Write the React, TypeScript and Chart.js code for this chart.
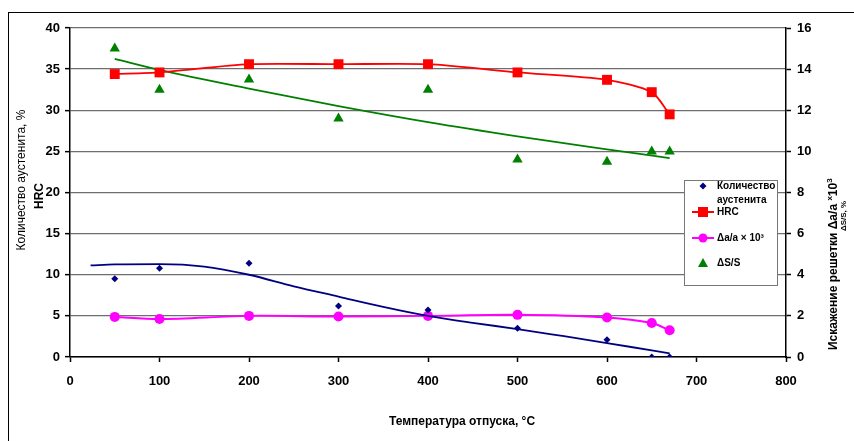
import React, { useEffect, useRef } from 'react';
import { Chart, registerables } from 'chart.js';

Chart.register(...registerables);

// ---- Data ----
const temps = [50, 100, 200, 300, 400, 500, 600, 650, 670];
const austenite = [9.5, 10.8, 11.4, 6.2, 5.7, 3.5, 2.1, 0, 0];
const hrc = [34.4, 34.6, 35.6, 35.6, 35.6, 34.6, 33.7, 32.2, 29.5];
const latticeDist = [1.95, 1.85, 2.0, 1.97, 2.0, 2.05, 1.92, 1.65, 1.3];
const dss = [15.0, 13.0, 13.5, 11.6, 13.0, 9.6, 9.5, 10.0, 10.0];

const austTrendX = [23, 50, 100, 150, 200, 250, 300, 350, 400, 450, 500, 550, 600, 650, 670];
const austTrendY = [11.13, 11.25, 11.3, 11.0, 10.0, 8.6, 7.35, 6.1, 5.0, 4.15, 3.4, 2.56, 1.7, 0.8, 0.45];

const dssTrendX = [50, 100, 200, 300, 400, 500, 600, 670];
const dssTrendY = [14.5, 13.96, 13.05, 12.2, 11.42, 10.73, 10.1, 9.67];

const xTicks = [0, 100, 200, 300, 400, 500, 600, 700, 800];
const yLeftTicks = [0, 5, 10, 15, 20, 25, 30, 35, 40];
const yRightTicks = [0, 2, 4, 6, 8, 10, 12, 14, 16];

const labels = {
  x: 'Температура отпуска, °С',
  yLeft1: 'Количество аустенита, %',
  yLeft2: 'HRC',
  yRightMain: 'Искажение решетки Δa/a ',
  yRightSub: 'ΔS/S, %',
  legAust1: 'Количество',
  legAust2: 'аустенита',
  legHrc: 'HRC',
  legLat: 'Δa/a × 10³',
  legDss: 'ΔS/S',
};

const FONT = '"Liberation Sans", Arial, Helvetica, sans-serif';
const NAVY = '#000080';
const RED = '#FF0000';
const MAGENTA = '#FF00FF';
const GREEN = '#008000';

const pts = (xs: number[], ys: number[]) => xs.map((x, i) => ({ x, y: ys[i] }));

function diamond(ctx: CanvasRenderingContext2D, x: number, y: number, r: number, color: string) {
  ctx.beginPath();
  ctx.moveTo(x, y - r);
  ctx.lineTo(x + r, y);
  ctx.lineTo(x, y + r);
  ctx.lineTo(x - r, y);
  ctx.closePath();
  ctx.fillStyle = color;
  ctx.fill();
}

const overlay = {
  id: 'overlay',
  beforeDraw(chart: any) {
    const ctx = chart.ctx as CanvasRenderingContext2D;
    ctx.save();
    ctx.fillStyle = '#ffffff';
    ctx.fillRect(0, 0, chart.width, chart.height);
    ctx.strokeStyle = '#000';
    ctx.lineWidth = 1;
    ctx.strokeRect(8.5, 12.5, 1000, 1000);
    ctx.restore();
  },
  afterDraw(chart: any) {
    const ctx = chart.ctx as CanvasRenderingContext2D;
    ctx.save();
    ctx.fillStyle = '#000';
    // X title
    ctx.font = `bold 12px ${FONT}`;
    ctx.textAlign = 'center';
    ctx.textBaseline = 'middle';
    ctx.fillText(labels.x, 462, 422);

    // Left title
    ctx.save();
    ctx.translate(22, 180);
    ctx.rotate(-Math.PI / 2);
    ctx.font = `12px ${FONT}`;
    ctx.fillText(labels.yLeft1, 0, 0);
    ctx.restore();
    ctx.save();
    ctx.translate(40, 196);
    ctx.rotate(-Math.PI / 2);
    ctx.font = `bold 12px ${FONT}`;
    ctx.fillText(labels.yLeft2, 0, 0);
    ctx.restore();

    // Right title
    ctx.save();
    ctx.translate(837, 350);
    ctx.rotate(-Math.PI / 2);
    ctx.textAlign = 'left';
    ctx.textBaseline = 'alphabetic';
    let u = 0;
    ctx.font = `bold 12px ${FONT}`;
    ctx.fillText(labels.yRightMain, u, 0);
    u += ctx.measureText(labels.yRightMain).width;
    ctx.font = `bold 8px ${FONT}`;
    ctx.fillText('x', u, -5);
    u += ctx.measureText('x').width;
    ctx.font = `bold 12px ${FONT}`;
    ctx.fillText('10', u, 0);
    u += ctx.measureText('10').width;
    ctx.font = `bold 8px ${FONT}`;
    ctx.fillText('3', u, -5);
    ctx.restore();

    ctx.save();
    ctx.translate(844, 216);
    ctx.rotate(-Math.PI / 2);
    ctx.textAlign = 'center';
    ctx.textBaseline = 'middle';
    ctx.font = `bold 8px ${FONT}`;
    ctx.fillText(labels.yRightSub, 0, 0);
    ctx.restore();

    // Legend
    ctx.fillStyle = '#fff';
    ctx.fillRect(684, 180, 93, 105);
    ctx.strokeStyle = '#777';
    ctx.lineWidth = 1;
    ctx.strokeRect(684.5, 180.5, 93, 105);

    const mx = 703;
    const tx = 717;
    diamond(ctx, mx, 186, 3.5, NAVY);

    ctx.strokeStyle = RED;
    ctx.lineWidth = 2;
    ctx.beginPath();
    ctx.moveTo(692, 212);
    ctx.lineTo(714, 212);
    ctx.stroke();
    ctx.fillStyle = RED;
    ctx.fillRect(mx - 5, 207, 10, 10);

    ctx.strokeStyle = MAGENTA;
    ctx.beginPath();
    ctx.moveTo(692, 238);
    ctx.lineTo(714, 238);
    ctx.stroke();
    ctx.fillStyle = MAGENTA;
    ctx.beginPath();
    ctx.arc(mx, 238, 4.5, 0, Math.PI * 2);
    ctx.fill();

    ctx.fillStyle = GREEN;
    ctx.beginPath();
    ctx.moveTo(mx, 258);
    ctx.lineTo(mx + 5, 267);
    ctx.lineTo(mx - 5, 267);
    ctx.closePath();
    ctx.fill();

    ctx.fillStyle = '#000';
    ctx.font = `bold 10px ${FONT}`;
    ctx.textAlign = 'left';
    ctx.textBaseline = 'middle';
    ctx.fillText(labels.legAust1, tx, 186);
    ctx.fillText(labels.legAust2, tx, 200);
    ctx.fillText(labels.legHrc, tx, 212);
    ctx.fillText(labels.legLat, tx, 238);
    ctx.fillText(labels.legDss, tx, 263);
    ctx.restore();
  },
};

export default function App() {
  const ref = useRef<HTMLCanvasElement | null>(null);
  useEffect(() => {
    if (!ref.current) return;
    const tickFont = { family: FONT, size: 13, weight: 'bold' as const };
    const chart = new Chart(ref.current, {
      type: 'line',
      data: {
        datasets: [
          {
            label: 'aust',
            data: pts(temps, austenite),
            showLine: false,
            pointStyle: 'rectRot',
            pointRadius: 3.5,
            backgroundColor: NAVY,
            borderColor: NAVY,
            borderWidth: 0,
            yAxisID: 'y',
          },
          {
            label: 'austTrend',
            data: pts(austTrendX, austTrendY),
            borderColor: NAVY,
            borderWidth: 1.8,
            pointRadius: 0,
            cubicInterpolationMode: 'monotone',
            yAxisID: 'y',
          },
          {
            label: 'HRC',
            data: pts(temps, hrc),
            borderColor: RED,
            backgroundColor: RED,
            borderWidth: 1.8,
            pointStyle: 'rect',
            pointRadius: 7,
            pointBorderWidth: 0,
            tension: 0.25,
            yAxisID: 'y',
          },
          {
            label: 'lat',
            data: pts(temps, latticeDist),
            borderColor: MAGENTA,
            backgroundColor: MAGENTA,
            borderWidth: 2,
            pointStyle: 'circle',
            pointRadius: 5,
            pointBorderWidth: 0,
            tension: 0.3,
            yAxisID: 'y2',
          },
          {
            label: 'dss',
            data: pts(temps, dss),
            showLine: false,
            pointStyle: 'triangle',
            pointRadius: 6,
            backgroundColor: GREEN,
            borderColor: GREEN,
            borderWidth: 0,
            yAxisID: 'y2',
          },
          {
            label: 'dssTrend',
            data: pts(dssTrendX, dssTrendY),
            borderColor: GREEN,
            borderWidth: 1.7,
            pointRadius: 0,
            cubicInterpolationMode: 'monotone',
            yAxisID: 'y2',
          },
        ],
      },
      options: {
        animation: false,
        responsive: false,
        devicePixelRatio: 1,
        layout: { padding: { top: 28, left: 0, right: 0, bottom: 0 } },
        plugins: { legend: { display: false }, tooltip: { enabled: false } },
        scales: {
          x: {
            type: 'linear',
            min: 0,
            max: 800,
            afterBuildTicks: (s: any) => {
              s.ticks = xTicks.map((v) => ({ value: v }));
            },
            ticks: { color: '#000', font: tickFont, padding: 12, maxRotation: 0 },
            grid: { drawOnChartArea: false, tickLength: 5, tickColor: '#000', tickWidth: 1.5 },
            border: { color: '#000', width: 1.5 },
            afterFit: (s: any) => {
              s.height = 84;
            },
          },
          y: {
            type: 'linear',
            position: 'left',
            min: 0,
            max: 40,
            afterBuildTicks: (s: any) => {
              s.ticks = yLeftTicks.map((v) => ({ value: v }));
            },
            ticks: { color: '#000', font: tickFont, padding: 5 },
            grid: { color: '#6e6e6e', lineWidth: 1.3, tickLength: 5, tickColor: '#000', tickWidth: 1.5 },
            border: { color: '#000', width: 1.5 },
            afterFit: (s: any) => {
              s.width = 70;
            },
          },
          y2: {
            type: 'linear',
            position: 'right',
            min: 0,
            max: 16,
            afterBuildTicks: (s: any) => {
              s.ticks = yRightTicks.map((v) => ({ value: v }));
            },
            ticks: { color: '#000', font: tickFont, padding: 6 },
            grid: { drawOnChartArea: false, tickLength: 5, tickColor: '#000', tickWidth: 1.5 },
            border: { color: '#000', width: 1.5 },
            afterFit: (s: any) => {
              s.width = 68;
            },
          },
        },
      },
      plugins: [overlay],
    });
    return () => chart.destroy();
  }, []);

  return (
    <div style={{ position: 'absolute', left: 0, top: 0, width: 854, height: 441 }}>
      <canvas ref={ref} width={854} height={441} style={{ display: 'block' }} />
    </div>
  );
}
